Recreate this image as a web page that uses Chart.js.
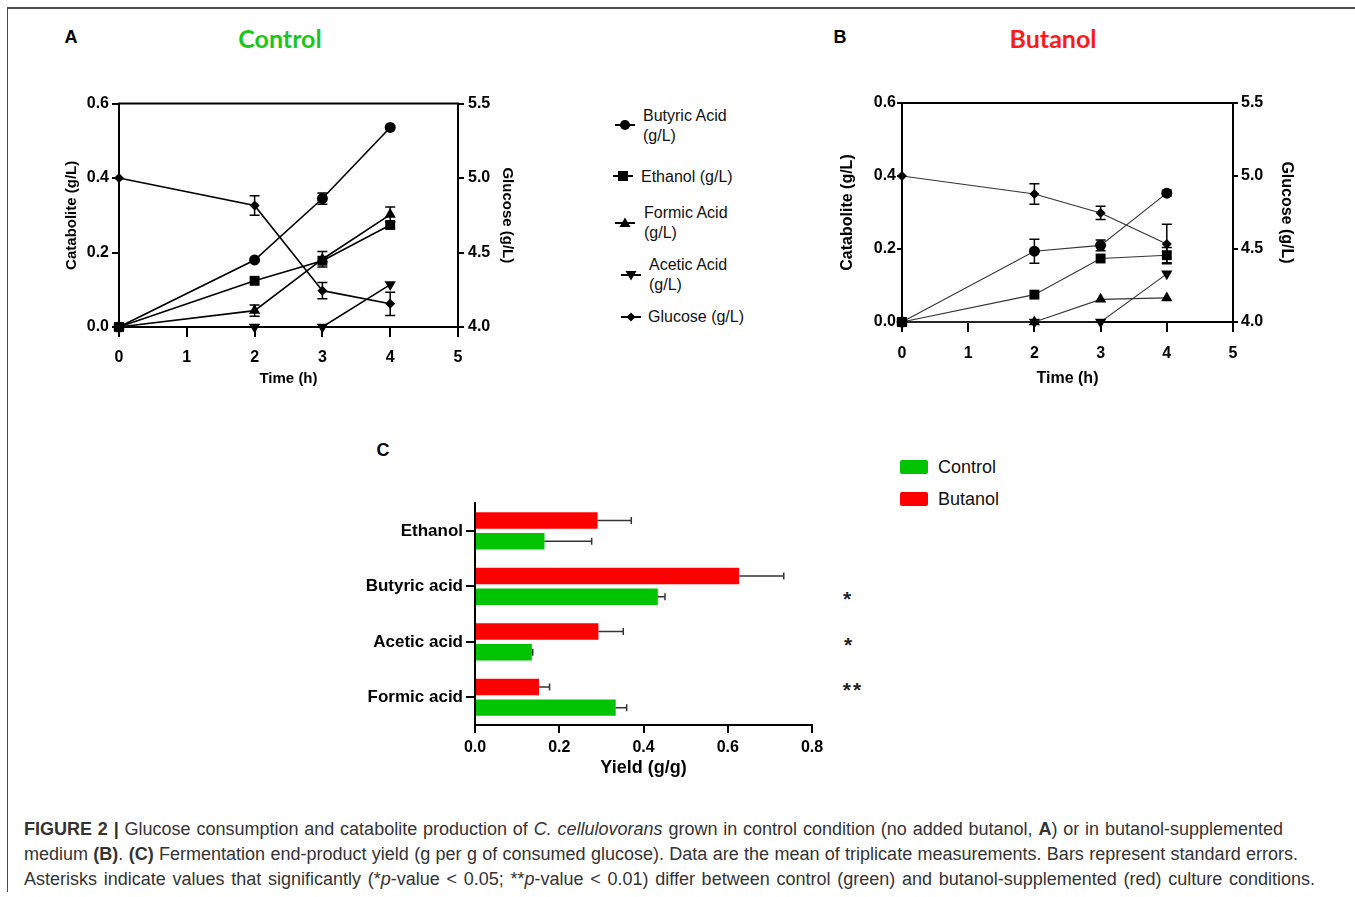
<!DOCTYPE html>
<html>
<head>
<meta charset="utf-8">
<script src="https://cdn.jsdelivr.net/npm/chart.js@4.4.1/dist/chart.umd.min.js"></script>
<style>
  body { margin: 0; background: #fff; font-family: "Liberation Sans", Arial, sans-serif; }
  #page { position: relative; width: 1355px; height: 897px; overflow: hidden; }
  .frame { position: absolute; left: 7px; top: 7px; width: 1400px; height: 883px;
           border-top: 2px solid #4a4a4a; border-left: 1px solid #4a4a4a; }
  canvas { position: absolute; }
  .t { position: absolute; white-space: nowrap; line-height: 1; transform: translate(0, -50%); color: #111; }
  .c { transform: translate(-50%, -50%); }
  .letter { font-weight: bold; font-size: 18px; color: #000; }
  .ptitle { font-family: Lato, sans-serif; font-weight: bold; font-size: 25px; }
  .leg { font-size: 16px; line-height: 20px; }
  .mk { position: absolute; transform: translate(-50%, -50%); }
  .box { position: absolute; width: 28px; height: 14px; border-radius: 2px; }
  .cleg { font-size: 18px; }
  .star { font-weight: bold; font-size: 21px; color: #222; letter-spacing: 2px; }
  .cap { position: absolute; left: 24px; font-size: 18px; color: #333; line-height: 1;
         text-align: justify; text-align-last: justify; transform: translate(0, -50%); }
</style>
</head>
<body>
<div id="page">
  <div class="frame"></div>

  <div class="t letter c" style="left:71px; top:37px;">A</div>
  <div class="t letter c" style="left:840px; top:37px;">B</div>
  <div class="t letter c" style="left:383px; top:450px;">C</div>
  <div class="t ptitle c" style="left:280px; top:38px; color:#1ec41e;">Control</div>
  <div class="t ptitle c" style="left:1053px; top:38px; color:#ff1a1a;">Butanol</div>

  <canvas id="chartA" width="470" height="305" style="left:55px; top:90px;"></canvas>
  <canvas id="chartB" width="470" height="305" style="left:830px; top:90px;"></canvas>
  <canvas id="chartC" width="472" height="300" style="left:360px; top:490px;"></canvas>

  <!-- legend for A / B -->
  <svg class="mk" style="left:625px; top:125px;" width="20" height="14"><line x1="0" y1="7" x2="20" y2="7" stroke="#000" stroke-width="2"/><circle cx="10" cy="7" r="5" fill="#000"/></svg>
  <div class="t leg" style="left:643px; top:126px;">Butyric Acid<br>(g/L)</div>
  <svg class="mk" style="left:623px; top:176px;" width="20" height="14"><line x1="0" y1="7" x2="20" y2="7" stroke="#000" stroke-width="2"/><rect x="5" y="2" width="10" height="10" fill="#000"/></svg>
  <div class="t leg" style="left:641px; top:177px;">Ethanol (g/L)</div>
  <svg class="mk" style="left:625px; top:223px;" width="20" height="14"><line x1="0" y1="7" x2="20" y2="7" stroke="#000" stroke-width="2"/><polygon points="10,1.5 15.5,11 4.5,11" fill="#000"/></svg>
  <div class="t leg" style="left:644px; top:223px;">Formic Acid<br>(g/L)</div>
  <svg class="mk" style="left:631px; top:275px;" width="20" height="14"><line x1="0" y1="7" x2="20" y2="7" stroke="#000" stroke-width="2"/><polygon points="4.5,3 15.5,3 10,12.5" fill="#000"/></svg>
  <div class="t leg" style="left:649px; top:275px;">Acetic Acid<br>(g/L)</div>
  <svg class="mk" style="left:631px; top:317px;" width="20" height="14"><line x1="0" y1="7" x2="20" y2="7" stroke="#000" stroke-width="2"/><polygon points="10,2.5 14.5,7 10,11.5 5.5,7" fill="#000"/></svg>
  <div class="t leg" style="left:648px; top:317px;">Glucose (g/L)</div>

  <!-- legend for C -->
  <div class="box" style="left:900px; top:460px; background:#00c400;"></div>
  <div class="t cleg" style="left:938px; top:467px;">Control</div>
  <div class="box" style="left:900px; top:492px; background:#ff0000;"></div>
  <div class="t cleg" style="left:938px; top:499px;">Butanol</div>

  <div class="t star c" style="left:848px; top:598px;">*</div>
  <div class="t star c" style="left:849px; top:644px;">*</div>
  <div class="t star c" style="left:853px; top:689px;">**</div>

  <div class="cap" style="top:829px; width:1259px;"><b>FIGURE 2 |</b> Glucose consumption and catabolite production of <i>C. cellulovorans</i> grown in control condition (no added butanol, <b>A</b>) or in butanol-supplemented</div>
  <div class="cap" style="top:854px; width:1274px;">medium <b>(B)</b>. <b>(C)</b> Fermentation end-product yield (g per g of consumed glucose). Data are the mean of triplicate measurements. Bars represent standard errors.</div>
  <div class="cap" style="top:879px; width:1291px;">Asterisks indicate values that significantly (*<i>p</i>-value &lt; 0.05; **<i>p</i>-value &lt; 0.01) differ between control (green) and butanol-supplemented (red) culture conditions.</div>
</div>

<script>
// sampling times (h)
const timeHours = [0, 2, 3, 4];

// panel A - control
const ctrlButyric = [0, 0.180, 0.345, 0.536];
const ctrlButyricErr = [0, 0, 0.015, 0];
const ctrlEthanol = [0, 0.124, 0.178, 0.274];
const ctrlEthanolErr = [0, 0, 0, 0.008];
const ctrlFormic = [0, 0.044, 0.182, 0.302];
const ctrlFormicErr = [0, 0.015, 0.021, 0.02];
const ctrlAcetic = [0, 0, 0, 0.114];
const ctrlGlucose = [5.0, 4.816, 4.244, 4.156];
const ctrlGlucoseErr = [0, 0.065, 0.055, 0.078];

// panel B - butanol
const butButyric = [0, 0.194, 0.210, 0.353];
const butButyricErr = [0, 0.033, 0.015, 0.008];
const butEthanol = [0, 0.075, 0.174, 0.183];
const butEthanolErr = [0, 0, 0, 0.021];
const butFormic = [0, 0, 0.062, 0.066];
const butAcetic = [0, 0, 0, 0.132];
const butGlucose = [5.0, 4.877, 4.747, 4.534];
const butGlucoseErr = [0, 0.07, 0.045, 0.135];

// panel C - yields
const yieldCategories = ['Ethanol', 'Butyric acid', 'Acetic acid', 'Formic acid'];
const yieldButanol = [0.291, 0.627, 0.293, 0.152];
const yieldButanolErr = [0.08, 0.106, 0.059, 0.025];
const yieldControl = [0.165, 0.434, 0.135, 0.334];
const yieldControlErr = [0.112, 0.017, 0.002, 0.026];

Chart.defaults.font.family = '"Liberation Sans", Arial, sans-serif';
Chart.defaults.color = '#000';
Chart.defaults.animation = false;

const errorBars = {
    id: 'errorBars',
    afterDatasetsDraw(chart) {
        const ctx = chart.ctx;
        const horizontal = chart.options.indexAxis === 'y';
        ctx.save();
        chart.data.datasets.forEach((ds, i) => {
            if (!ds.errors) return;
            const meta = chart.getDatasetMeta(i);
            ctx.strokeStyle = ds.errorColor || '#000';
            ctx.lineWidth = ds.errorWidth || 1.5;
            meta.data.forEach((el, j) => {
                const err = ds.errors[j];
                if (!err) return;
                ctx.beginPath();
                if (horizontal) {
                    const scale = chart.scales[meta.xAxisID];
                    const end = scale.getPixelForValue(ds.data[j] + err);
                    ctx.moveTo(el.x, el.y);
                    ctx.lineTo(end, el.y);
                    ctx.moveTo(end, el.y - 3.5);
                    ctx.lineTo(end, el.y + 3.5);
                } else {
                    const scale = chart.scales[meta.yAxisID];
                    const v = ds.data[j].y;
                    const top = scale.getPixelForValue(v + err);
                    const bot = scale.getPixelForValue(v - err);
                    ctx.moveTo(el.x, top);
                    ctx.lineTo(el.x, bot);
                    ctx.moveTo(el.x - 5, top);
                    ctx.lineTo(el.x + 5, top);
                    ctx.moveTo(el.x - 5, bot);
                    ctx.lineTo(el.x + 5, bot);
                }
                ctx.stroke();
            });
        });
        ctx.restore();
    }
};

// top border of the boxed time-course plots
const topFrame = {
    id: 'topFrame',
    afterDraw(chart) {
        const a = chart.chartArea;
        const ctx = chart.ctx;
        ctx.save();
        ctx.strokeStyle = '#000';
        ctx.lineWidth = 2;
        ctx.beginPath();
        ctx.moveTo(a.left - 1, a.top);
        ctx.lineTo(a.right + 1, a.top);
        ctx.stroke();
        ctx.restore();
    }
};

function pts(values) {
    return timeHours.map((t, i) => ({ x: t, y: values[i] }));
}

function series(label, values, style, opts) {
    return Object.assign({
        label: label,
        data: pts(values),
        borderColor: opts.lineColor,
        backgroundColor: '#000',
        pointBackgroundColor: '#000',
        pointBorderColor: '#000',
        pointBorderWidth: 0,
        borderWidth: opts.lineWidth,
        pointStyle: style,
        tension: 0,
        clip: false,
        yAxisID: 'y'
    }, opts.extra || {});
}

function timeCourse(id, d, s) {
    const lo = { lineColor: s.lineColor, lineWidth: s.lineWidth };
    const datasets = [
        series('Butyric Acid (g/L)', d.butyric, 'circle', Object.assign({}, lo, { extra: { pointRadius: 5.5, errors: d.butyricErr } })),
        series('Ethanol (g/L)', d.ethanol, 'rect', Object.assign({}, lo, { extra: { pointRadius: 7, errors: d.ethanolErr } })),
        series('Formic Acid (g/L)', d.formic, 'triangle', Object.assign({}, lo, { extra: { pointRadius: 6.5, errors: d.formicErr } })),
        series('Acetic Acid (g/L)', d.acetic, 'triangle', Object.assign({}, lo, { extra: { pointRadius: 6.5, pointRotation: 180 } })),
        series('Glucose (g/L)', d.glucose, 'rectRot', Object.assign({}, lo, { extra: { pointRadius: 5, errors: d.glucoseErr, yAxisID: 'y2' } }))
    ];
    const tickFont = { size: s.tickSize, weight: 'bold' };
    const titleFont = { size: s.titleSize, weight: 'bold' };
    const axisGrid = (len) => ({ drawOnChartArea: false, drawTicks: true, tickLength: len, color: '#000', lineWidth: 2 });
    const border = { display: true, color: '#000', width: 2 };
    const fixed1 = v => v.toFixed(1);

    return new Chart(document.getElementById(id), {
        type: 'line',
        data: { datasets: datasets },
        options: {
            responsive: false,
            layout: { padding: { top: s.padTop, left: 0, right: 0, bottom: 0 } },
            plugins: { legend: { display: false }, tooltip: { enabled: false } },
            scales: {
                x: {
                    type: 'linear', min: 0, max: 5,
                    ticks: { stepSize: 1, font: tickFont, padding: s.xTickPad },
                    grid: axisGrid(10), border: border,
                    title: { display: true, text: 'Time (h)', font: titleFont, padding: { top: 0, bottom: s.xTitlePad } },
                    afterFit: sc => { sc.height = s.xHeight; }
                },
                y: {
                    position: 'left', min: 0, max: 0.6,
                    ticks: { stepSize: 0.2, font: tickFont, padding: s.yTickPad, callback: fixed1 },
                    grid: axisGrid(s.yTickLen), border: border,
                    title: { display: true, text: 'Catabolite (g/L)', font: titleFont, padding: { top: s.yTitlePad, bottom: 0 } },
                    afterFit: sc => { sc.width = s.yWidth; }
                },
                y2: {
                    position: 'right', min: 4, max: 5.5,
                    ticks: { stepSize: 0.5, font: tickFont, padding: s.y2TickPad, callback: fixed1 },
                    grid: axisGrid(s.y2TickLen), border: border,
                    title: { display: true, text: 'Glucose (g/L)', font: titleFont, padding: { top: s.y2TitlePad, bottom: 0 } },
                    afterFit: sc => { sc.width = s.y2Width; }
                }
            }
        },
        plugins: [errorBars, topFrame]
    });
}

timeCourse('chartA', {
    butyric: ctrlButyric, butyricErr: ctrlButyricErr,
    ethanol: ctrlEthanol, ethanolErr: ctrlEthanolErr,
    formic: ctrlFormic, formicErr: ctrlFormicErr,
    acetic: ctrlAcetic,
    glucose: ctrlGlucose, glucoseErr: ctrlGlucoseErr
}, {
    lineColor: '#000', lineWidth: 1.6, tickSize: 16, titleSize: 15, padTop: 11,
    xHeight: 68, xTickPad: 11, xTitlePad: 7,
    yWidth: 64, yTickLen: 7, yTickPad: 3, yTitlePad: 8,
    y2Width: 67, y2TickLen: 6, y2TickPad: 4, y2TitlePad: 9
});

timeCourse('chartB', {
    butyric: butButyric, butyricErr: butButyricErr,
    ethanol: butEthanol, ethanolErr: butEthanolErr,
    formic: butFormic, formicErr: null,
    acetic: butAcetic,
    glucose: butGlucose, glucoseErr: butGlucoseErr
}, {
    lineColor: '#333', lineWidth: 1.1, tickSize: 16, titleSize: 16, padTop: 13,
    xHeight: 73, xTickPad: 12, xTitlePad: 7,
    yWidth: 72, yTickLen: 5, yTickPad: 1, yTitlePad: 8,
    y2Width: 67, y2TickLen: 5, y2TickPad: 3, y2TitlePad: 4
});

new Chart(document.getElementById('chartC'), {
    type: 'bar',
    data: {
        labels: yieldCategories,
        datasets: [
            { label: 'Butanol', data: yieldButanol, errors: yieldButanolErr, backgroundColor: '#ff0000', errorColor: '#333' },
            { label: 'Control', data: yieldControl, errors: yieldControlErr, backgroundColor: '#00c400', errorColor: '#333' }
        ]
    },
    options: {
        responsive: false,
        indexAxis: 'y',
        categoryPercentage: 0.747,
        barPercentage: 0.795,
        layout: { padding: { top: 10, left: 0, right: 20, bottom: 0 } },
        plugins: { legend: { display: false }, tooltip: { enabled: false } },
        scales: {
            x: {
                min: 0, max: 0.8,
                ticks: { stepSize: 0.2, font: { size: 16, weight: 'bold' }, padding: 5, callback: v => v.toFixed(1) },
                grid: { drawOnChartArea: false, tickLength: 8, color: '#000', lineWidth: 2 },
                border: { color: '#000', width: 2 },
                title: { display: true, text: 'Yield (g/g)', font: { size: 18, weight: 'bold' }, padding: { top: 0, bottom: 11 } },
                afterFit: sc => { sc.height = 65; }
            },
            y: {
                ticks: { font: { size: 17, weight: 'bold' }, padding: 3 },
                grid: { drawOnChartArea: false, offset: false, tickLength: 9, color: '#000', lineWidth: 2 },
                border: { color: '#000', width: 2 },
                afterFit: sc => { sc.width = 115; }
            }
        }
    },
    plugins: [errorBars]
});
</script>
</body>
</html>
